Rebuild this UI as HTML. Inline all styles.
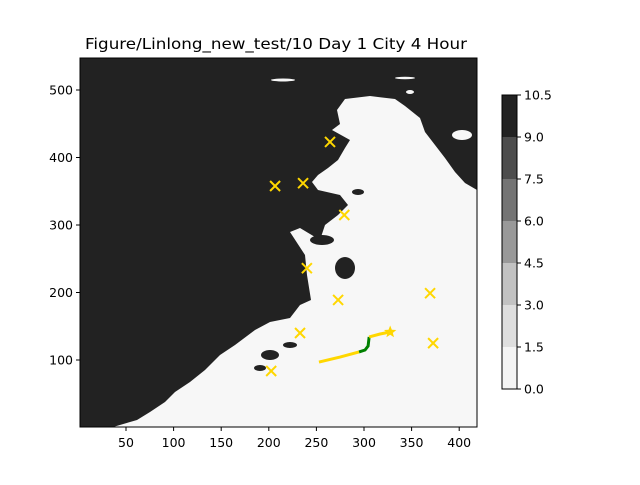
<!DOCTYPE html>
<html><head><meta charset="utf-8"><style>
body{margin:0;background:#fff}
svg text{font-family:"DejaVu Sans","Liberation Sans",sans-serif;font-size:12.5px;fill:#000}
</style></head><body>
<svg id="chart" width="640" height="480" xmlns="http://www.w3.org/2000/svg">
<rect width="640" height="480" fill="#fff"/>
<text x="85" y="49" textLength="382" lengthAdjust="spacingAndGlyphs" style="font-size:15px">Figure/Linlong_new_test/10 Day 1 City 4 Hour</text>
<g>
<rect x="80" y="58" width="397" height="369" fill="#f7f7f7"/>
<polygon fill="#222" points="80,58 477,58 477,190 465,183 455,172 445,158 435,145 425,132 420,118 405,106 395,99 370,96 345,99 337,110 340,124 332,130 350,140 345,148 338,160 328,168 318,175 312,182 318,190 340,195 348,205 338,215 325,225 320,240 300,228 290,232 305,255 307,275 311,300 300,305 290,318 270,322 255,330 235,345 220,355 205,370 190,382 175,392 165,402 150,412 137,420 113,427 80,427"/>
<g fill="#222">
<ellipse cx="345" cy="268" rx="10" ry="11"/>
<ellipse cx="322" cy="240" rx="12" ry="5"/>
<ellipse cx="270" cy="355" rx="9" ry="5"/>
<ellipse cx="290" cy="345" rx="7" ry="3"/>
<ellipse cx="260" cy="368" rx="6" ry="3"/>
<ellipse cx="358" cy="192" rx="6" ry="3"/>
</g>
<g fill="#f7f7f7">
<ellipse cx="462" cy="135" rx="10" ry="5"/>
<ellipse cx="405" cy="78" rx="10" ry="1.2"/>
<ellipse cx="283" cy="80" rx="12" ry="1.5"/>
<ellipse cx="410" cy="92" rx="4" ry="2"/>
</g>
<g id="marks"></g>
<rect x="80" y="58" width="397" height="369" fill="none" stroke="#000" stroke-width="1"/>
</g>
<g id="axes"></g>
<g id="cbar"></g>
</svg>
<script>
const xTicks=[50,100,150,200,250,300,350,400];
const yTicks=[100,200,300,400,500];
const cityX=[206.6,236,264.3,279.3,240,272.8,369.4,372.6,232.8,202.5];
const cityY=[357.8,362,423,314.8,236,189,199,125,140,83.7];
const pathX1=[252.7,274.8,294.8];
const pathY1=[97,104.4,111.9];
const pathX2=[294.8,301.1,304.3,305.4];
const pathY2=[111.9,114.8,120.7,134.1];
const pathX3=[305.4,316.9,327.5];
const pathY3=[134.1,138.5,141.5];
const starX=[327.5], starY=[141.5];
const cbLevels=[0,1.5,3,4.5,6,7.5,9,10.5];
const cbColors=["#f4f4f4","#dedede","#c2c2c2","#999999","#747474","#4d4d4d","#222222"];
const NS="http://www.w3.org/2000/svg";
const sx=v=>78.4+0.952*v, sy=v=>427.5-0.675*v;
const cy=v=>389-v*(294/10.5);
function mk(t,a,p){const e=document.createElementNS(NS,t);for(const k in a)e.setAttribute(k,a[k]);p.appendChild(e);return e;}
const marks=document.getElementById('marks'), axes=document.getElementById('axes'), cbar=document.getElementById('cbar');
function line(xs,ys,col,name){const e=mk('polyline',{points:xs.map((x,i)=>sx(x)+','+sy(ys[i])).join(' '),fill:'none',stroke:col,'stroke-width':3},marks);

}
line(pathX1,pathY1,'#ffd700','route-segment-1');
line(pathX2,pathY2,'#008000','route-segment-2');
line(pathX3,pathY3,'#ffd700','route-segment-3');
cityX.forEach((x,i)=>{const g=mk('g',{stroke:'#ffd700','stroke-width':2},marks);


const X=sx(x),Y=sy(cityY[i]);mk('line',{x1:X-5,y1:Y-5,x2:X+5,y2:Y+5},g);mk('line',{x1:X-5,y1:Y+5,x2:X+5,y2:Y-5},g);});
starX.forEach((x,i)=>{const X=sx(x),Y=sy(starY[i]);let p=[];for(let k=0;k<10;k++){const r=k%2?2.8:6.5,a=-Math.PI/2+k*Math.PI/5;p.push((X+r*Math.cos(a))+','+(Y+r*Math.sin(a)));}
const s=mk('polygon',{points:p.join(' '),fill:'#ffd700'},marks);

});
xTicks.forEach(v=>{const X=sx(v);mk('line',{x1:X,y1:427,x2:X,y2:431,stroke:'#000'},axes);const t=mk('text',{x:X,y:447,'text-anchor':'middle'},axes);t.textContent=v;

});
yTicks.forEach(v=>{const Y=sy(v);mk('line',{x1:76,y1:Y,x2:80,y2:Y,stroke:'#000'},axes);const t=mk('text',{x:73,y:Y+4.5,'text-anchor':'end'},axes);t.textContent=v;

});
cbColors.forEach((c,i)=>{const r=mk('rect',{x:502,y:cy(cbLevels[i+1]),width:15,height:cy(cbLevels[i])-cy(cbLevels[i+1]),fill:c},cbar);

});
mk('rect',{x:502,y:95,width:15,height:294,fill:'none',stroke:'#000'},cbar);
cbLevels.forEach(v=>{const Y=cy(v);mk('line',{x1:517,y1:Y,x2:521,y2:Y,stroke:'#000'},cbar);const t=mk('text',{x:524,y:Y+4.5},cbar);t.textContent=v.toFixed(1);

});
</script>
</body></html>
